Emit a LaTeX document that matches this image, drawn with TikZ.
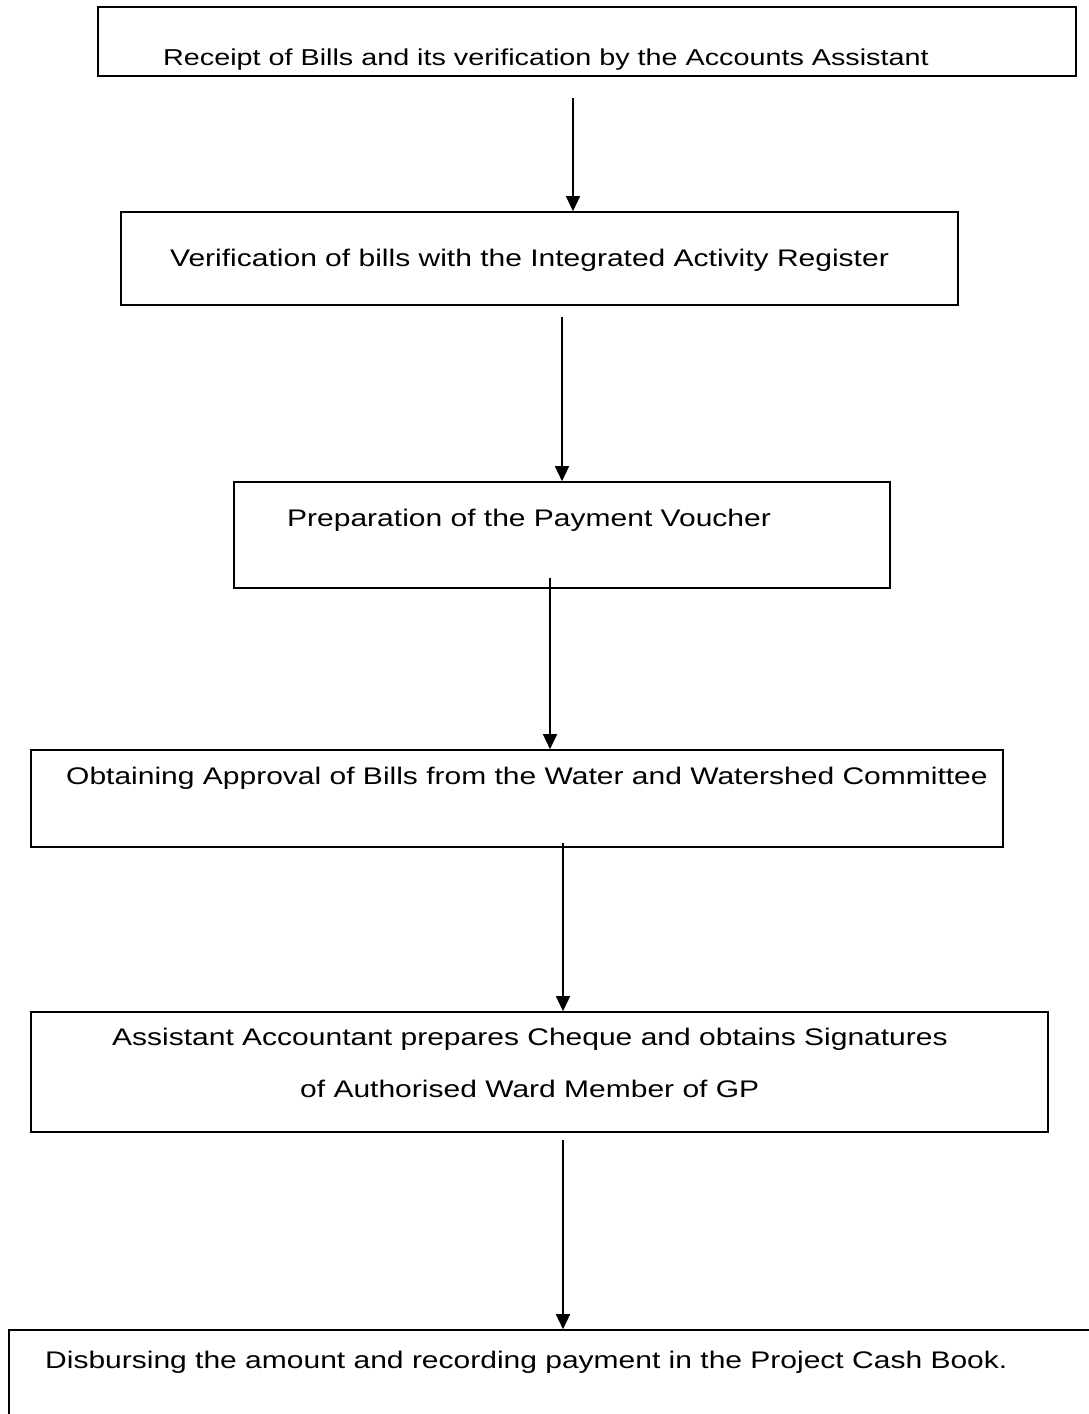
\documentclass[tikz,border=0pt]{standalone}
\usepackage{fontspec}
\setmainfont[FakeStretch=1.25]{Liberation Sans}
\usetikzlibrary{arrows.meta}
\begin{document}
\begin{tikzpicture}[x=1pt,y=-1pt,
  stepbox/.style={draw, line width=1.6pt, rectangle, inner sep=0pt},
  steptext/.style={anchor=base west, inner sep=0pt, font=\fontsize{24}{24}\selectfont},
  flow/.style={line width=1.4pt, -{Triangle[width=14pt,length=15pt]}}]
\useasboundingbox (0,0) rectangle (1088,1414);
\fill[white] (0,0) rectangle (1088,1414);

% process boxes
\node[stepbox, minimum width=978pt, minimum height=69pt] (b1) at (587,41.5) {};
\node[stepbox, minimum width=837pt, minimum height=93pt] (b2) at (539.5,258.5) {};
\node[stepbox, minimum width=656pt, minimum height=106pt] (b3) at (562,535) {};
\node[stepbox, minimum width=972pt, minimum height=97pt] (b4) at (517,798.5) {};
\node[stepbox, minimum width=1017pt, minimum height=120pt] (b5) at (539.5,1072) {};
\node[stepbox, minimum width=1111pt, minimum height=120pt] (b6) at (564.5,1390) {};

% box texts
\node[steptext, font=\fontsize{23}{23}\selectfont] (t1) at (163,65) {Receipt of Bills and its verification by the Accounts Assistant};
\node[steptext] (t2) at (170,266) {Verification of bills with the Integrated Activity Register};
\node[steptext] (t3) at (287,526) {Preparation of the Payment Voucher};
\node[steptext] (t4) at (66,784) {Obtaining Approval of Bills from the Water and Watershed Committee};
\node[steptext] (t5a) at (112,1045) {Assistant Accountant prepares Cheque and obtains Signatures};
\node[steptext] (t5b) at (300,1097) {of Authorised Ward Member of GP};
\node[steptext] (t6) at (45,1368) {Disbursing the amount and recording payment in the Project Cash Book.};

% arrow starting points
\coordinate (a1) at (573,98);
\coordinate (a2) at (562,317);
\coordinate (a3) at (550,578);
\coordinate (a4) at (563,843);
\coordinate (a5) at (563,1140);

% connectors
\draw[flow] (a1) -- (a1 |- b2.north);
\draw[flow] (a2) -- (a2 |- b3.north);
\draw[flow] (a3) -- (a3 |- b4.north);
\draw[flow] (a4) -- (a4 |- b5.north);
\draw[flow] (a5) -- (a5 |- b6.north);
\end{tikzpicture}
\end{document}
